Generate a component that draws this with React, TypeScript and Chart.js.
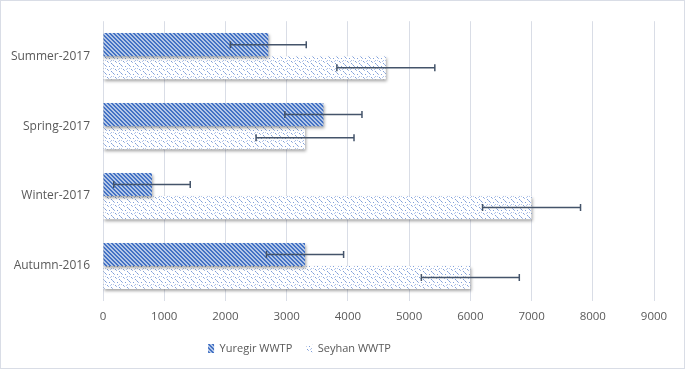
import React, { useEffect, useRef } from "react";
import { Chart, registerables } from "chart.js";

Chart.register(...registerables);

const categories = ["Summer-2017", "Spring-2017", "Winter-2017", "Autumn-2016"];
const yuregirValues = [2700, 3600, 800, 3300];
const yuregirErrors = [620, 630, 625, 630];
const seyhanValues = [4620, 3300, 7000, 6000];
const seyhanErrors = [800, 800, 800, 800];
const xTicks = [0, 1000, 2000, 3000, 4000, 5000, 6000, 7000, 8000, 9000];

function makeStripePattern(): CanvasPattern | string {
  const c = document.createElement("canvas");
  c.width = 4;
  c.height = 4;
  const ctx = c.getContext("2d");
  if (!ctx) return "#4472c4";
  const img = ctx.createImageData(4, 4);
  for (let y = 0; y < 4; y++) {
    for (let x = 0; x < 4; x++) {
      const i = (y * 4 + x) * 4;
      const on = (((x - y) % 4) + 4) % 4 < 2;
      if (on) {
        img.data[i] = 0x44; img.data[i + 1] = 0x72; img.data[i + 2] = 0xc4;
      } else {
        img.data[i] = 0xb4; img.data[i + 1] = 0xc7; img.data[i + 2] = 0xe7;
      }
      img.data[i + 3] = 255;
    }
  }
  ctx.putImageData(img, 0, 0);
  return ctx.createPattern(c, "repeat") || "#4472c4";
}

function makeDotPattern(): CanvasPattern | string {
  const c = document.createElement("canvas");
  c.width = 8;
  c.height = 8;
  const ctx = c.getContext("2d");
  if (!ctx) return "#b4c7e7";
  ctx.fillStyle = "#ffffff";
  ctx.fillRect(0, 0, 8, 8);
  const dots: [number, number, string][] = [
    [0, 0, "#7f9fd9"], [1, 1, "#a9bde6"], [4, 1, "#7f9fd9"], [6, 3, "#a9bde6"],
    [2, 4, "#7f9fd9"], [3, 5, "#a9bde6"], [6, 6, "#7f9fd9"], [7, 7, "#a9bde6"],
    [0, 3, "#b8c9ea"], [5, 4, "#b8c9ea"],
  ];
  for (const [x, y, col] of dots) {
    ctx.fillStyle = col;
    ctx.fillRect(x, y, 1, 1);
  }
  return ctx.createPattern(c, "repeat") || "#b4c7e7";
}

const FONT = "'Open Sans', 'Liberation Sans', sans-serif";

export default function App() {
  const ref = useRef<HTMLCanvasElement | null>(null);

  useEffect(() => {
    document.body.style.margin = "0";
    const canvas = ref.current;
    if (!canvas) return;
    const stripe = makeStripePattern();
    const dots = makeDotPattern();
    const errors = [yuregirErrors, seyhanErrors];

    const shadowPlugin = {
      id: "barShadow",
      afterLayout(chart: any) {
        if (chart.legend) {
          chart.legend.left -= 28;
          chart.legend.right -= 28;
          chart.legend.top -= 2;
          chart.legend.bottom -= 2;
        }
      },
      beforeDatasetsDraw(chart: any) {
        const ctx = chart.ctx;
        ctx.save();
        ctx.shadowColor = "rgba(0,0,0,0.35)";
        ctx.shadowBlur = 3;
        ctx.shadowOffsetX = 1;
        ctx.shadowOffsetY = 2;
      },
      afterDatasetsDraw(chart: any) {
        const ctx = chart.ctx;
        ctx.restore();
        ctx.save();
        ctx.strokeStyle = "#44546a";
        ctx.lineWidth = 1.5;
        chart.data.datasets.forEach((ds: any, di: number) => {
          const meta = chart.getDatasetMeta(di);
          meta.data.forEach((bar: any, i: number) => {
            const v = ds.data[i];
            const e = errors[di][i];
            const x1 = chart.scales.x.getPixelForValue(v - e);
            const x2 = chart.scales.x.getPixelForValue(v + e);
            const y = bar.y;
            ctx.beginPath();
            ctx.moveTo(x1, y);
            ctx.lineTo(x2, y);
            ctx.moveTo(x1, y - 3.5);
            ctx.lineTo(x1, y + 3.5);
            ctx.moveTo(x2, y - 3.5);
            ctx.lineTo(x2, y + 3.5);
            ctx.stroke();
          });
        });
        ctx.restore();
      },
    };

    const chart = new Chart(canvas, {
      type: "bar",
      data: {
        labels: categories,
        datasets: [
          {
            label: "Yuregir WWTP",
            data: yuregirValues,
            backgroundColor: stripe as any,
            borderWidth: 0,
            categoryPercentage: 0.66,
            barPercentage: 1,
          },
          {
            label: "Seyhan WWTP",
            data: seyhanValues,
            backgroundColor: dots as any,
            borderWidth: 0,
            categoryPercentage: 0.66,
            barPercentage: 1,
          },
        ],
      },
      options: {
        indexAxis: "y",
        animation: false,
        responsive: false,
        maintainAspectRatio: false,
        layout: { padding: { top: 7, right: 30, bottom: 2, left: 0 } },
        scales: {
          x: {
            min: 0,
            max: 9000,
            afterBuildTicks(scale: any) {
              scale.ticks = xTicks.map((v) => ({ value: v }));
            },
            afterFit(scale: any) {
              scale.height = 30;
            },
            grid: { color: "#d9dde6", lineWidth: 1, drawTicks: false },
            border: { display: false },
            ticks: {
              color: "#595959",
              font: { family: FONT, size: 11.5 },
              padding: 9,
              callback: (v: any) => String(v),
            },
          },
          y: {
            afterFit(scale: any) {
              scale.width = 102;
            },
            grid: { display: false, drawTicks: false },
            border: { display: false },
            ticks: {
              color: "#595959",
              font: { family: FONT, size: 12 },
              padding: 13,
            },
          },
        },
        plugins: {
          legend: {
            position: "bottom",
            labels: {
              boxWidth: 6,
              boxHeight: 9,
              color: "#595959",
              font: { family: FONT, size: 11 },
              padding: 14,
            },
          },
          tooltip: { enabled: false },
        },
      },
      plugins: [shadowPlugin],
    } as any);
    return () => chart.destroy();
  }, []);

  return (
    <div
      style={{
        position: "absolute",
        left: 0,
        top: 0,
        width: 685,
        height: 369,
        boxSizing: "border-box",
        border: "1px solid #d9dde6",
        background: "#fff",
      }}
    >
      <canvas ref={ref} width={683} height={367} style={{ display: "block" }} />
    </div>
  );
}
